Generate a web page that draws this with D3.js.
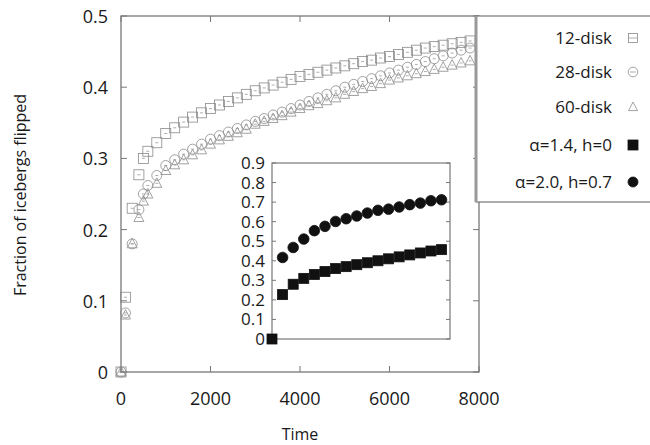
<!DOCTYPE html>
<html><head><meta charset="utf-8">
<script src="https://cdn.jsdelivr.net/npm/d3@7"></script>
<style>body{margin:0;background:#fff}text{font-family:"Open Sans",sans-serif;fill:#1a1a1a}</style>
</head><body><div id="chart"></div>
<script>
const times = [0,100,250,400,500,600,800,1000,1200,1400,1600,1800,2000,2200,2400,2600,2800,3000,3200,3400,3600,3800,4000,4200,4400,4600,4800,5000,5200,5400,5600,5800,6000,6200,6400,6600,6800,7000,7200,7400,7600,7800];
const disk12 = [0,.105,.23,.277,.30,.31,.322,.335,.343,.351,.358,.364,.370,.375,.380,.385,.390,.395,.399,.403,.407,.411,.415,.418,.421,.424,.427,.430,.433,.436,.438,.441,.443,.446,.449,.452,.455,.457,.459,.461,.463,.465];
const disk28 = [0,.083,.18,.228,.25,.262,.276,.29,.298,.306,.313,.320,.327,.332,.337,.342,.347,.352,.356,.361,.365,.370,.375,.380,.385,.390,.395,.400,.404,.408,.412,.416,.420,.424,.428,.432,.436,.440,.444,.448,.452,.455];
const disk60 = [0,.08,.18,.217,.24,.25,.265,.283,.291,.298,.305,.312,.320,.326,.331,.336,.341,.348,.352,.356,.360,.365,.370,.374,.377,.381,.385,.390,.394,.398,.401,.405,.410,.413,.416,.419,.422,.425,.428,.431,.434,.437];
const insetSquares = [0,.227,.28,.31,.33,.345,.36,.37,.38,.39,.40,.41,.42,.43,.44,.45,.457];
const insetCircles = [null,.417,.468,.511,.554,.576,.601,.615,.629,.644,.658,.664,.675,.687,.695,.707,.712];
const xTicks = [0,2000,4000,6000,8000];
const yTicks = [0,0.1,0.2,0.3,0.4,0.5];
const insetYTicks = [0,.1,.2,.3,.4,.5,.6,.7,.8,.9];
const legendLabels = ["12-disk","28-disk","60-disk","\u03b1=1.4, h=0","\u03b1=2.0, h=0.7"];

const svg = d3.select("#chart").append("svg").attr("width",650).attr("height",445);
const grey = "#777";
const x = d3.scaleLinear().domain([0,8000]).range([121,479]);
const y = d3.scaleLinear().domain([0,0.5]).range([372,16]);

// main box
svg.append("rect").attr("x",121).attr("y",16).attr("width",358).attr("height",356)
  .attr("fill","none").attr("stroke",grey).attr("stroke-width",1.3);
xTicks.forEach(t=>{
  svg.append("line").attr("x1",x(t)).attr("x2",x(t)).attr("y1",372).attr("y2",366).attr("stroke",grey);
  svg.append("line").attr("x1",x(t)).attr("x2",x(t)).attr("y1",16).attr("y2",22).attr("stroke",grey);
  svg.append("text").attr("x",x(t)).attr("y",405).attr("text-anchor","middle").attr("font-size",18).text(t);
});
yTicks.forEach(t=>{
  svg.append("line").attr("x1",121).attr("x2",127).attr("y1",y(t)).attr("y2",y(t)).attr("stroke",grey);
  svg.append("line").attr("x1",479).attr("x2",473).attr("y1",y(t)).attr("y2",y(t)).attr("stroke",grey);
  svg.append("text").attr("x",108).attr("y",y(t)+7).attr("text-anchor","end").attr("font-size",18).text(t);
});
svg.append("text").attr("x",300).attr("y",440).attr("text-anchor","middle").attr("font-size",16).text("Time");
svg.append("text").attr("transform","translate(26,195) rotate(-90)").attr("text-anchor","middle").attr("font-size",16).text("Fraction of icebergs flipped");

const mg = "#8a8a8a";
function sq(g,cx,cy,s,fill){g.append("rect").attr("x",cx-s/2).attr("y",cy-s/2).attr("width",s).attr("height",s).attr("fill",fill||"none").attr("stroke",fill||mg).attr("stroke-width",0.8);}
function ci(g,cx,cy,r,fill){g.append("circle").attr("cx",cx).attr("cy",cy).attr("r",r).attr("fill",fill||"none").attr("stroke",fill||mg).attr("stroke-width",0.8);}
function tri(g,cx,cy,s){g.append("path").attr("d",`M${cx},${cy-s*0.55}L${cx+s/2},${cy+s*0.4}L${cx-s/2},${cy+s*0.4}Z`).attr("fill","none").attr("stroke",mg).attr("stroke-width",0.8);}
function bar(g,cx,cy,w){g.append("line").attr("x1",cx-w/2).attr("x2",cx+w/2).attr("y1",cy).attr("y2",cy).attr("stroke",mg).attr("stroke-width",0.7);}

const pts = svg.append("g");
times.forEach((t,i)=>{
  tri(pts,x(t),y(disk60[i]),10); bar(pts,x(t),y(disk60[i]),3);
  ci(pts,x(t),y(disk28[i]),5); bar(pts,x(t),y(disk28[i]),3);
  sq(pts,x(t),y(disk12[i]),10); bar(pts,x(t),y(disk12[i]),3);
});

// inset
const ix = d3.scaleLinear().domain([0,16.8]).range([272,450]);
const iy = d3.scaleLinear().domain([0,0.9]).range([339,163]);
const ig = svg.append("g");
ig.append("rect").attr("x",272).attr("y",163).attr("width",178).attr("height",176).attr("fill","#fff").attr("stroke",grey).attr("stroke-width",1.2);
insetYTicks.forEach(t=>{
  ig.append("line").attr("x1",272).attr("x2",276).attr("y1",iy(t)).attr("y2",iy(t)).attr("stroke",grey);
  ig.append("line").attr("x1",450).attr("x2",446).attr("y1",iy(t)).attr("y2",iy(t)).attr("stroke",grey);
  ig.append("text").attr("x",265).attr("y",iy(t)+6).attr("text-anchor","end").attr("font-size",17).text(t);
});
insetSquares.forEach((v,i)=>sq(ig,ix(i),iy(v),10,"#111"));
insetCircles.forEach((v,i)=>{ if(v!==null) ci(ig,ix(i),iy(v),5.3,"#111"); });

// legend
const lg = svg.append("g");
lg.append("rect").attr("x",476).attr("y",16).attr("width",180).attr("height",186).attr("fill","#fff").attr("stroke",grey).attr("stroke-width",1.2);
lg.append("line").attr("x1",476).attr("x2",476).attr("y1",16).attr("y2",202).attr("stroke","#999").attr("stroke-width",3);
const ly = [38,72,107,145,182];
legendLabels.forEach((l,i)=>{
  lg.append("text").attr("x",612).attr("y",ly[i]+6).attr("text-anchor","end").attr("font-size",17).text(l);
  const cx = 633, cy = ly[i];
  if(i===0){sq(lg,cx,cy,9);bar(lg,cx,cy,9);}
  if(i===1){ci(lg,cx,cy,4.8);bar(lg,cx,cy,6);}
  if(i===2){tri(lg,cx,cy,9);}
  if(i===3) sq(lg,cx,cy,10,"#111");
  if(i===4) ci(lg,cx,cy,5,"#111");
});
</script></body></html>
